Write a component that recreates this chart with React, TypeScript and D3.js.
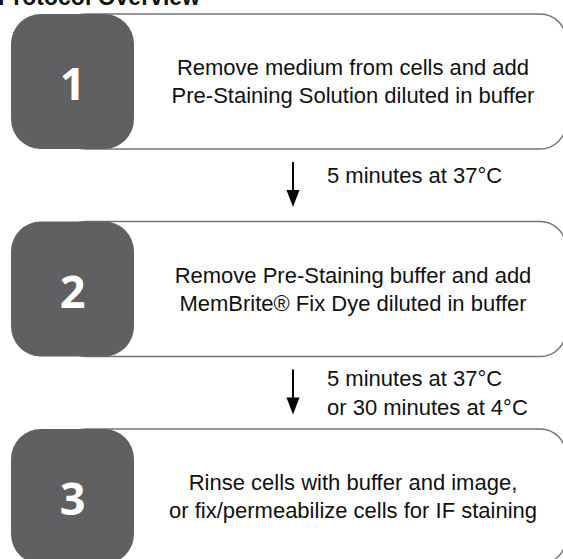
import React from "react";
import * as d3 from "d3";

// step boxes
const stepNumbers = ["1", "2", "3"];
const stepLines = [
  ["Remove medium from cells and add", "Pre-Staining Solution diluted in buffer"],
  ["Remove Pre-Staining buffer and add", "MemBrite® Fix Dye diluted in buffer"],
  ["Rinse cells with buffer and image,", "or fix/permeabilize cells for IF staining"],
];
// incubation between steps
const waitLines = [
  ["5 minutes at 37°C"],
  ["5 minutes at 37°C", "or 30 minutes at 4°C"],
];
const title = "Protocol Overview";

export default function App() {
  const width = 563;
  const height = 559;
  const boxH = 135;

  const y = d3.scaleLinear().domain([0, 2]).range([14, 429]);
  const x = d3.scaleLinear().domain([0, 1]).range([11, 566]);

  const grey = "#606062";
  const textFont = "'Liberation Sans', Arial, sans-serif";

  const arrowX = 293;

  return (
    <svg
      width={width}
      height={height}
      style={{ position: "absolute", left: 0, top: 0, display: "block", background: "#fff" }}
    >
      <text
        x={-2}
        y={5}
        fontFamily={textFont}
        fontWeight="bold"
        fontSize={23}
        fill="#111"
      >
        {title}
      </text>

      {stepNumbers.map((n, i) => {
        const top = y(i);
        return (
          <g key={n}>
            <rect
              x={60}
              y={top}
              width={x(1) - 60}
              height={boxH}
              rx={26}
              ry={26}
              fill="#fff"
              stroke="#747474"
              strokeWidth={1.4}
            />
            <rect x={x(0)} y={top} width={123} height={boxH} rx={30} ry={30} fill={grey} />
            <text
              x={72.5}
              y={top + 86}
              textAnchor="middle"
              fontFamily="'Open Sans', sans-serif"
              fontWeight={700}
              fontSize={45}
              fill="#fff"
            >
              {n}
            </text>
            {stepLines[i].map((line, j) => (
              <text
                key={j}
                x={353}
                y={top + 61 + j * 28}
                textAnchor="middle"
                fontFamily={textFont}
                fontSize={22}
                fill="#111"
              >
                {line}
              </text>
            ))}
          </g>
        );
      })}

      {waitLines.map((lines, i) => {
        const y0 = y(i) + boxH + 13;
        const tip = y0 + 45;
        return (
          <g key={i}>
            <line x1={arrowX} x2={arrowX} y1={y0} y2={tip - 14} stroke="#000" strokeWidth={2} />
            <path
              d={`M${arrowX - 6.5},${tip - 17} L${arrowX + 6.5},${tip - 17} L${arrowX},${tip} Z`}
              fill="#000"
            />
            {lines.map((line, j) => {
              const base = lines.length === 1 ? y0 + 21 : y0 + 16 + j * 29;
              return (
                <text
                  key={j}
                  x={327}
                  y={base}
                  fontFamily={textFont}
                  fontSize={22}
                  fill="#111"
                >
                  {line}
                </text>
              );
            })}
          </g>
        );
      })}
    </svg>
  );
}
